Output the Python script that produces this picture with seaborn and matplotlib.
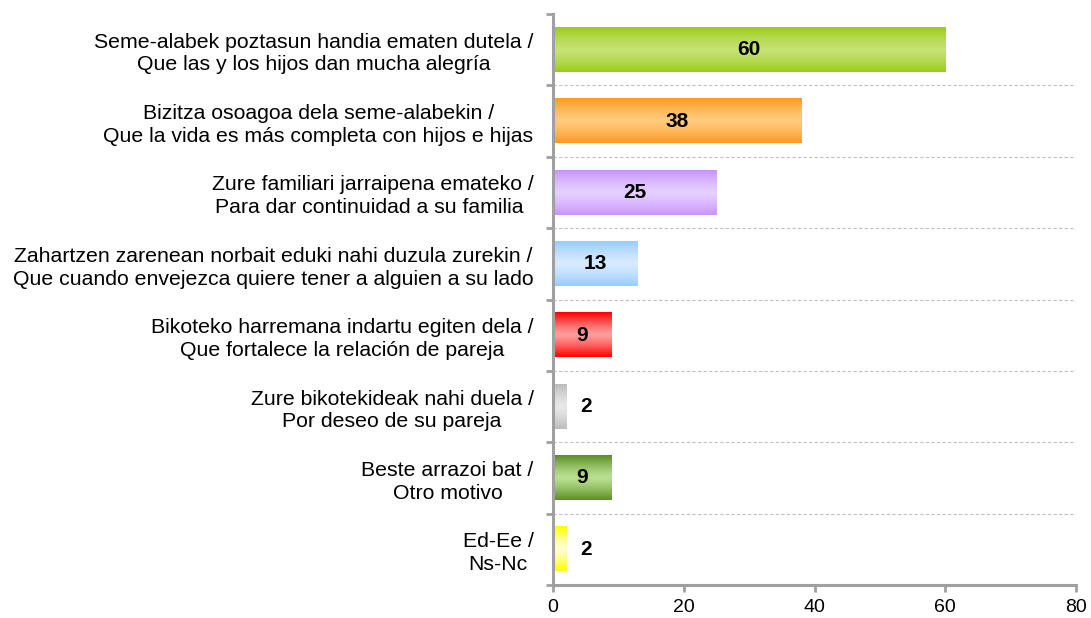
import numpy as np
import pandas as pd
import matplotlib
matplotlib.use("Agg")
import matplotlib.pyplot as plt
from matplotlib.colors import to_rgb
import seaborn as sns

categories = [
    "Seme-alabek poztasun handia ematen dutela /\nQue las y los hijos dan mucha alegría",
    "Bizitza osoagoa dela seme-alabekin /\nQue la vida es más completa con hijos e hijas",
    "Zure familiari jarraipena emateko /\nPara dar continuidad a su familia ",
    "Zahartzen zarenean norbait eduki nahi duzula zurekin /\nQue cuando envejezca quiere tener a alguien a su lado",
    "Bikoteko harremana indartu egiten dela /\nQue fortalece la relación de pareja",
    "Zure bikotekideak nahi duela /\nPor deseo de su pareja",
    "Beste arrazoi bat /\nOtro motivo",
    "Ed-Ee /\nNs-Nc",
]
values = [60, 38, 25, 13, 9, 2, 9, 2]
edge_colors = ["#9acc1c", "#ff9a1f", "#c993ff", "#99cbff", "#ff0000", "#bdbdbd", "#5b8f22", "#ffff00"]
center_colors = ["#c6e272", "#ffca7c", "#e5d0ff", "#d8ebff", "#ff9c9c", "#e8e8e8", "#b8df90", "#ffffd2"]
x_ticks = [0, 20, 40, 60, 80]

sns.set_theme(style="white")
plt.rcParams["font.family"] = ["Liberation Sans", "DejaVu Sans"]
plt.rcParams["text.color"] = "black"
plt.rcParams["xtick.labelcolor"] = "black"
plt.rcParams["ytick.labelcolor"] = "black"

df = pd.DataFrame({"cat": categories, "val": values})

fig = plt.figure(figsize=(10.91, 6.18), dpi=100)
ax = fig.add_axes([553 / 1091, 1 - 585 / 618, (1076 - 553) / 1091, (585 - 14) / 618])

sns.barplot(data=df, x="val", y="cat", hue="cat", palette=edge_colors, orient="h",
            legend=False, width=0.62, ax=ax, saturation=1, linewidth=0)

# gradient fills
n = 64
t = np.linspace(0, 1, n)
prof = 1 - np.abs(2 * t - 1) ** 1.3
for patch, ec, cc in zip(ax.patches, edge_colors, center_colors):
    x0, y0 = patch.get_x(), patch.get_y()
    w, h = patch.get_width(), patch.get_height()
    e = np.array(to_rgb(ec))
    c = np.array(to_rgb(cc))
    grad = e[None, :] * (1 - prof[:, None]) + c[None, :] * prof[:, None]
    img = grad[:, None, :]
    ax.imshow(img, extent=(x0, x0 + w, y0 + h, y0), aspect="auto", zorder=2,
              interpolation="bilinear")
    patch.set_visible(False)

# value labels
for patch, v in zip(ax.patches, values):
    yc = patch.get_y() + patch.get_height() / 2
    xpos = v / 2 if v >= 5 else v + 3
    ax.text(xpos, yc, f"{v}", ha="center", va="center", fontsize=15,
            fontweight="bold", color="black", zorder=3)

ax.set_xlim(0, 80)
ax.set_ylim(len(categories) - 0.5, -0.5)
ax.set_xticks(x_ticks)
ax.set_xticklabels([str(t) for t in x_ticks], fontsize=14, color="black")
ax.set_xlabel("")
ax.set_ylabel("")

ax.set_yticks(range(len(categories)))
ax.set_yticklabels(categories, fontsize=15.3, ha="right", multialignment="center",
                   linespacing=1.25, color="black")
ax.tick_params(axis="y", which="major", left=False, length=0, pad=14)
ax.set_yticks(np.arange(-0.5, len(categories)), minor=True)
ax.tick_params(axis="y", which="minor", left=True, length=5, width=2,
               color="#a0a0a0", direction="out")
ax.tick_params(axis="x", bottom=True, length=5, width=2, color="#a0a0a0",
               direction="out", pad=5)

for yb in np.arange(0.5, len(categories) - 1):
    ax.axhline(yb, color="#c0c0c0", linestyle=(0, (3, 2)), linewidth=0.8, zorder=1)

for s in ["top", "right"]:
    ax.spines[s].set_visible(False)
for s in ["left", "bottom"]:
    ax.spines[s].set_color("#a0a0a0")
    ax.spines[s].set_linewidth(2.2)

fig.savefig("out.png", dpi=100, facecolor="white")
